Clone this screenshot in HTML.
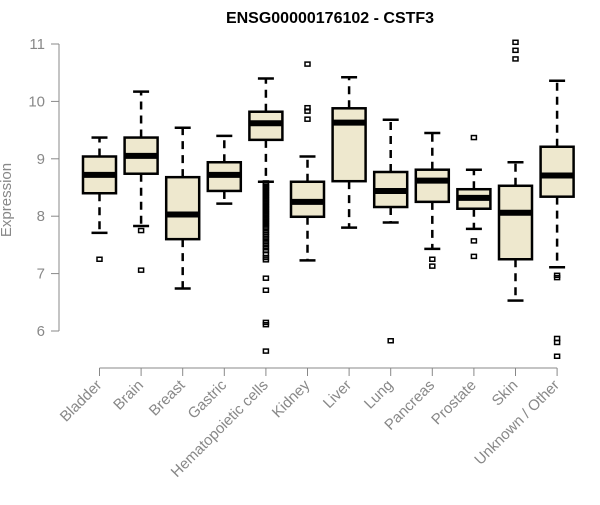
<!DOCTYPE html>
<html><head><meta charset="utf-8"><style>
body{margin:0;background:#fff;font-family:"Liberation Sans",Arial,sans-serif}
svg text{font-family:"Liberation Sans",Arial,sans-serif}
</style></head><body>
<svg id="chart" width="600" height="500" xmlns="http://www.w3.org/2000/svg">
<text x="330" y="23" text-anchor="middle" font-size="16" font-weight="bold">ENSG00000176102 - CSTF3</text>
<text transform="translate(11,200) rotate(-90)" text-anchor="middle" font-size="15" fill="#888">Expression</text>
<g id="yaxis"></g>
<g id="xaxis"></g>
<g id="boxes"></g>
</svg>
<script>
const categories=["Bladder","Brain","Breast","Gastric","Hematopoietic cells","Kidney","Liver","Lung","Pancreas","Prostate","Skin","Unknown / Other"];
const whiskerLow=[7.71,7.83,6.74,8.22,8.60,7.23,7.80,7.89,7.43,7.78,6.53,7.11];
const q1=[8.40,8.74,7.60,8.44,9.33,7.99,8.61,8.16,8.25,8.13,7.25,8.34];
const medians=[8.72,9.05,8.03,8.72,9.62,8.25,9.63,8.44,8.62,8.32,8.06,8.71];
const q3=[9.04,9.37,8.68,8.94,9.82,8.60,9.88,8.77,8.81,8.47,8.53,9.21];
const whiskerHigh=[9.37,10.17,9.54,9.40,10.40,9.04,10.42,9.68,9.45,8.81,8.94,10.36];
const outliers=[[7.25],[7.75,7.06],[],[],
[8.58,8.55,8.52,8.49,8.46,8.43,8.40,8.37,8.34,8.31,8.28,8.25,8.22,8.19,8.16,8.13,8.10,8.07,8.04,8.01,7.98,7.95,7.92,7.89,7.86,7.83,7.80,7.76,7.72,7.68,7.64,7.60,7.55,7.50,7.45,7.40,7.34,7.28,7.24,6.92,6.71,6.15,6.11,5.65],
[10.65,9.89,9.83,9.69],[],[5.83],[7.25,7.13],[9.37,7.57,7.30],[11.03,10.89,10.74],[6.97,6.93,5.87,5.80,5.56]];
const yTicks=[6,7,8,9,10,11];
const NS="http://www.w3.org/2000/svg";
function y(v){return 331-(v-6)*57.4;}
function x(i){return 99.5+i*41.6;}
function mk(tag,attrs,parent){const e=document.createElementNS(NS,tag);for(const k in attrs)e.setAttribute(k,attrs[k]);parent.appendChild(e);return e;}
const ya=document.getElementById('yaxis');
mk('line',{x1:59,x2:59,y1:y(6),y2:y(11),stroke:'#888','stroke-width':1},ya);
yTicks.forEach(t=>{
  mk('line',{x1:51,x2:59,y1:y(t),y2:y(t),stroke:'#888'},ya);
  const tx=mk('text',{x:45,y:y(t)+5,'text-anchor':'end','font-size':15,fill:'#888'},ya);
  tx.textContent=t;
  
  
});
const xa=document.getElementById('xaxis');
mk('line',{x1:x(0),x2:x(categories.length-1),y1:368,y2:368,stroke:'#888'},xa);
const bx=document.getElementById('boxes');
categories.forEach((c,i)=>{
  const cx=x(i);
  mk('line',{x1:cx,x2:cx,y1:368,y2:376,stroke:'#888'},xa);
  const t=mk('text',{transform:`translate(${cx+3},${386}) rotate(-45)`,'text-anchor':'end','font-size':15,fill:'#888'},xa);
  t.textContent=c;
  
  
  const g=mk('g',{},bx);
  
  
  const dash={stroke:'#000','stroke-width':2.5,'stroke-dasharray':'8,6'};
  mk('line',Object.assign({x1:cx,x2:cx,y1:y(q3[i]),y2:y(whiskerHigh[i])},dash),g);
  mk('line',Object.assign({x1:cx,x2:cx,y1:y(q1[i]),y2:y(whiskerLow[i])},dash),g);
  mk('line',{x1:cx-8,x2:cx+8,y1:y(whiskerHigh[i]),y2:y(whiskerHigh[i]),stroke:'#000','stroke-width':2.5},g);
  mk('line',{x1:cx-8,x2:cx+8,y1:y(whiskerLow[i]),y2:y(whiskerLow[i]),stroke:'#000','stroke-width':2.5},g);
  mk('rect',{x:cx-16.5,y:y(q3[i]),width:33,height:y(q1[i])-y(q3[i]),fill:'#EEE8CE',stroke:'#000','stroke-width':2.5},g);
  mk('line',{x1:cx-16.5,x2:cx+16.5,y1:y(medians[i]),y2:y(medians[i]),stroke:'#000','stroke-width':6},g);
  outliers[i].forEach(v=>{
    const o=mk('rect',{x:cx-2.5,y:y(v)-2,width:5,height:4,fill:'none',stroke:'#000','stroke-width':1.5},g);
    
    
  });
});
</script>
</body></html>
